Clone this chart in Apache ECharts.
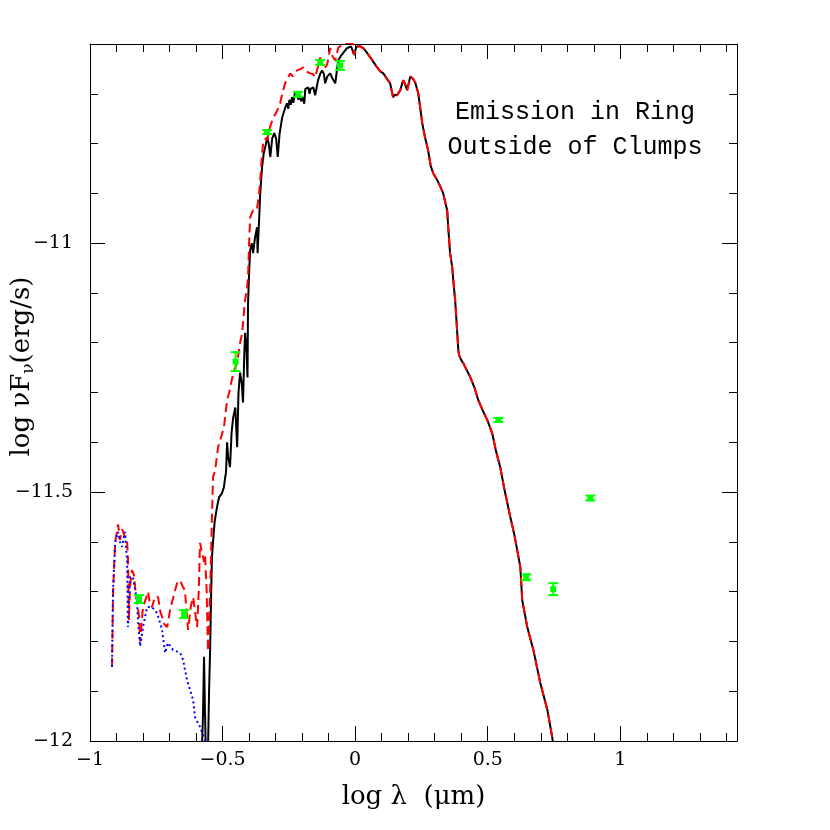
<!DOCTYPE html>
<html>
<head>
<meta charset="utf-8">
<script src="https://cdn.jsdelivr.net/npm/echarts@6/dist/echarts.min.js"></script>
<style>html,body{margin:0;padding:0;background:#fff}#c{width:830px;height:830px}</style>
</head>
<body>
<div id="c"></div>
<script>
// ---- data (log lambda [um], log nuFnu [erg/s]) ----
const blackCurve = [
[-0.580,-12.05],[-0.574,-11.95],[-0.570,-11.831],[-0.566,-11.95],[-0.562,-12.05],[-0.555,-12.02],[-0.551,-11.90],
[-0.547,-11.817],[-0.543,-11.70],[-0.540,-11.631],[-0.536,-11.60],[-0.530,-11.56],[-0.521,-11.53],[-0.513,-11.51],
[-0.509,-11.510],[-0.502,-11.502],[-0.495,-11.49],[-0.490,-11.47],[-0.487,-11.46],[-0.483,-11.40],[-0.479,-11.43],
[-0.472,-11.45],[-0.466,-11.38],[-0.460,-11.35],[-0.452,-11.33],[-0.445,-11.41],[-0.440,-11.30],[-0.434,-11.26],
[-0.428,-11.28],[-0.423,-11.32],[-0.418,-11.22],[-0.415,-11.18],[-0.410,-11.21],[-0.406,-11.27],[-0.404,-11.12],
[-0.400,-11.06],[-0.396,-11.014],[-0.390,-11.00],[-0.385,-11.02],[-0.378,-10.99],[-0.370,-10.968],[-0.368,-11.02],
[-0.362,-10.95],[-0.358,-10.90],[-0.351,-10.847],[-0.345,-10.82],[-0.336,-10.80],[-0.332,-10.787],[-0.326,-10.80],
[-0.320,-10.827],[-0.313,-10.79],[-0.305,-10.779],[-0.298,-10.79],[-0.292,-10.827],[-0.285,-10.78],[-0.275,-10.747],
[-0.265,-10.73],[-0.257,-10.719],[-0.252,-10.73],[-0.248,-10.712],[-0.243,-10.722],[-0.238,-10.707],[-0.233,-10.718],
[-0.228,-10.70],[-0.219,-10.699],[-0.214,-10.712],[-0.210,-10.705],[-0.203,-10.715],[-0.196,-10.707],[-0.192,-10.72],
[-0.188,-10.69],[-0.177,-10.687],[-0.172,-10.70],[-0.168,-10.69],[-0.158,-10.687],[-0.151,-10.703],[-0.140,-10.673],
[-0.132,-10.66],[-0.125,-10.653],[-0.118,-10.66],[-0.113,-10.679],[-0.105,-10.665],[-0.094,-10.659],[-0.085,-10.67],
[-0.075,-10.679],[-0.064,-10.633],[-0.055,-10.625],[-0.045,-10.618],[-0.030,-10.608],[-0.015,-10.605],[-0.008,-10.606],
[-0.004,-10.622],[0.004,-10.606],[0.015,-10.604],[0.030,-10.608],[0.045,-10.618],[0.057,-10.627],[0.070,-10.637],
[0.083,-10.647],[0.095,-10.655],[0.106,-10.659],[0.120,-10.670],[0.132,-10.679],[0.143,-10.707],[0.150,-10.702],
[0.158,-10.703],[0.170,-10.693],[0.181,-10.673],[0.188,-10.68],[0.196,-10.693],[0.208,-10.665],[0.218,-10.670],
[0.226,-10.677],[0.238,-10.699],[0.245,-10.727],[0.253,-10.759],[0.264,-10.789],[0.275,-10.813],[0.285,-10.845],
[0.294,-10.859],[0.309,-10.873],[0.320,-10.885],[0.332,-10.900],[0.347,-10.934],[0.351,-10.968],[0.358,-11.020],
[0.366,-11.048],[0.370,-11.075],[0.377,-11.114],[0.385,-11.18],[0.389,-11.215],[0.392,-11.225],[0.400,-11.235],
[0.408,-11.241],[0.415,-11.249],[0.434,-11.269],[0.450,-11.29],[0.464,-11.315],[0.480,-11.335],[0.498,-11.355],
[0.517,-11.382],[0.530,-11.415],[0.547,-11.450],[0.565,-11.50],[0.585,-11.550],[0.600,-11.585],[0.611,-11.616],
[0.623,-11.651],[0.630,-11.717],[0.649,-11.771],[0.672,-11.817],[0.698,-11.883],[0.725,-11.938],[0.743,-11.992],
[0.750,-12.02]
];
const redCurveLeft = [
[-0.917,-11.851],[-0.913,-11.70],[-0.905,-11.60],[-0.894,-11.565],[-0.887,-11.596],[-0.879,-11.575],[-0.875,-11.58],
[-0.868,-11.59],[-0.860,-11.60],[-0.857,-11.63],[-0.853,-11.757],[-0.849,-11.69],[-0.842,-11.657],[-0.835,-11.665],
[-0.830,-11.69],[-0.823,-11.72],[-0.815,-11.75],[-0.811,-11.80],[-0.805,-11.76],[-0.800,-11.731],[-0.790,-11.715],
[-0.781,-11.70],[-0.774,-11.725],[-0.766,-11.731],[-0.755,-11.71],[-0.743,-11.711],[-0.735,-11.74],[-0.728,-11.751],
[-0.720,-11.765],[-0.709,-11.771],[-0.698,-11.737],[-0.690,-11.72],[-0.680,-11.70],[-0.672,-11.683],[-0.660,-11.677],
[-0.650,-11.69],[-0.642,-11.697],[-0.636,-11.74],[-0.630,-11.777],[-0.620,-11.73],[-0.611,-11.711],[-0.604,-11.74],
[-0.596,-11.771],[-0.590,-11.70],[-0.585,-11.602],[-0.578,-11.62],[-0.570,-11.64],[-0.566,-11.627],[-0.560,-11.70],
[-0.555,-11.82],[-0.547,-11.70],[-0.540,-11.55],[-0.536,-11.47],[-0.528,-11.456],[-0.517,-11.41],[-0.509,-11.396],
[-0.495,-11.37],[-0.483,-11.315],[-0.475,-11.30],[-0.460,-11.261],[-0.445,-11.24],[-0.434,-11.20],[-0.426,-11.181],
[-0.418,-11.13],[-0.415,-11.114],[-0.408,-11.09],[-0.404,-11.07],[-0.400,-11.00],[-0.396,-10.948],[-0.390,-10.94],
[-0.385,-10.934],[-0.377,-10.935],[-0.370,-10.930],[-0.362,-10.90],[-0.358,-10.873],[-0.351,-10.82],[-0.347,-10.799],
[-0.340,-10.79],[-0.332,-10.793],[-0.321,-10.767],[-0.309,-10.747],[-0.300,-10.74],[-0.291,-10.73],[-0.283,-10.719],
[-0.275,-10.70],[-0.264,-10.679],[-0.255,-10.67],[-0.245,-10.659],[-0.235,-10.665],[-0.219,-10.653],[-0.205,-10.650],
[-0.196,-10.647],[-0.185,-10.655],[-0.170,-10.659],[-0.160,-10.66],[-0.151,-10.667],[-0.140,-10.645],[-0.132,-10.627],
[-0.125,-10.64],[-0.113,-10.647],[-0.105,-10.64],[-0.094,-10.608],[-0.085,-10.625],[-0.075,-10.633],[-0.064,-10.608],
[-0.050,-10.602],[-0.038,-10.598],[-0.020,-10.598],[-0.008,-10.600]
];
const blueCurve = [
[-0.917,-11.851],[-0.913,-11.697],[-0.905,-11.60],[-0.894,-11.58],[-0.887,-11.60],[-0.879,-11.61],[-0.868,-11.58],
[-0.860,-11.64],[-0.857,-11.771],[-0.849,-11.67],[-0.838,-11.671],[-0.823,-11.717],[-0.819,-11.757],[-0.811,-11.81],
[-0.800,-11.771],[-0.785,-11.731],[-0.766,-11.731],[-0.747,-11.743],[-0.728,-11.777],[-0.717,-11.823],[-0.706,-11.803],
[-0.687,-11.817],[-0.660,-11.823],[-0.649,-11.837],[-0.634,-11.878],[-0.611,-11.918],[-0.604,-11.952],[-0.585,-11.972],
[-0.566,-11.998],[-0.560,-12.02]
];
const obsX   = [-0.815, -0.645, -0.451, -0.332, -0.215, -0.132, -0.057, 0.540, 0.645, 0.747, 0.887];
const obsY   = [-11.715, -11.745, -11.238, -10.777, -10.701, -10.637, -10.643, -11.355, -11.671, -11.695, -11.512];
const obsErr = [0.008, 0.008, 0.019, 0.004, 0.005, 0.005, 0.009, 0.004, 0.006, 0.012, 0.005];
const xTicks = [-1, -0.5, 0, 0.5, 1];
const yTicks = [-12, -11.5, -11];
const titleLines = ['Emission in Ring', 'Outside of Clumps'];

// ---- chart ----
const redCurve = redCurveLeft.concat(blackCurve.filter(p => p[0] > -0.008));
const obsData = obsX.map((x, i) => [x, obsY[i], obsErr[i]]);
const XMIN = -1, XMAX = 1.44, YMIN = -12, YMAX = -10.6;
const fmt = v => { const r = Math.round(v * 10) / 10; return (r < 0 ? '\u2212' : '') + Math.abs(r); };
const serif = 'DejaVu Serif';
const lab = {color: '#000', fontFamily: serif, fontSize: 19};

function xAx(pos, major) {
  return {
    type: 'value', position: pos, min: XMIN, max: XMAX, interval: major ? 0.5 : 0.1,
    axisLine: {show: major, onZero: false, lineStyle: {color: '#000', width: 1}},
    axisTick: {show: true, inside: true, length: major ? 15 : 8, lineStyle: {color: '#000', width: 1}},
    axisLabel: (major && pos === 'bottom') ? Object.assign({show: true, margin: 10, formatter: v => xTicks.includes(Math.round(v*10)/10) ? fmt(v) : '', showMaxLabel: false}, lab) : {show: false},
    splitLine: {show: false}
  };
}
function yAx(pos, major) {
  return {
    type: 'value', position: pos, min: YMIN, max: YMAX, interval: major ? 0.5 : 0.1,
    axisLine: {show: major, onZero: false, lineStyle: {color: '#000', width: 1}},
    axisTick: {show: true, inside: true, length: major ? 15 : 8, lineStyle: {color: '#000', width: 1}},
    axisLabel: (major && pos === 'left') ? Object.assign({show: true, margin: 17, formatter: v => yTicks.includes(Math.round(v*10)/10) ? fmt(v) : '', showMaxLabel: false}, lab) : {show: false},
    splitLine: {show: false}
  };
}
const xAxes = [xAx('bottom', true), xAx('bottom', false), xAx('top', true), xAx('top', false)];
xAxes[0].name = 'log \u03bb  (\u03bcm)';
xAxes[0].nameLocation = 'middle';
xAxes[0].nameGap = 43;
xAxes[0].nameMoveOverlap = false;
xAxes[0].nameTextStyle = {color: '#000', fontFamily: serif, fontSize: 26};
const yAxes = [yAx('left', true), yAx('left', false), yAx('right', true), yAx('right', false)];
yAxes[0].name = '{p|log \u03bdF}{s|\u03bd}{a|(erg/s)}';
yAxes[0].nameLocation = 'middle';
yAxes[0].nameGap = 53;
yAxes[0].nameMoveOverlap = false;
yAxes[0].nameTextStyle = {color: '#000', fontFamily: serif, fontSize: 26,
  rich: {p: {fontFamily: serif, fontSize: 26, color: '#000', padding: [0, 0, 0, 52]},
         a: {fontFamily: serif, fontSize: 26, color: '#000'},
         s: {fontFamily: serif, fontSize: 17, color: '#000', padding: [13, 0, 0, 0]}}};

const chart = echarts.init(document.getElementById('c'), null, {renderer: 'canvas'});
chart.setOption({
  animation: false,
  backgroundColor: '#fff',
  grid: {left: 90, right: 93, top: 44, bottom: 89, containLabel: false, outerBoundsMode: 'none'},
  xAxis: xAxes,
  yAxis: yAxes,
  graphic: titleLines.map((t, i) => ({
    type: 'text', x: 575, y: 112 + i * 35, z: 10,
    style: {text: t, fill: '#000', font: '25px "Liberation Mono"', align: 'center', verticalAlign: 'middle',
            textAlign: 'center', textVerticalAlign: 'middle'}
  })),
  series: [
    {type: 'line', data: blackCurve, showSymbol: false, symbol: 'none', clip: true,
     lineStyle: {color: '#000', width: 2}, z: 2},
    {type: 'line', data: redCurve, showSymbol: false, symbol: 'none', clip: true,
     lineStyle: {color: '#ff0000', width: 2, type: [9, 5]}, z: 3},
    {type: 'line', data: blueCurve, showSymbol: false, symbol: 'none', clip: true,
     lineStyle: {color: '#0000ff', width: 2, type: [2, 3]}, z: 4},
    {type: 'custom', data: obsData, z: 5, clip: true,
     renderItem: function (params, api) {
       const x = api.value(0), y = api.value(1), e = api.value(2);
       const c = api.coord([x, y]);
       const top = api.coord([x, y + e]), bot = api.coord([x, y - e]);
       const st = {stroke: '#00ff00', lineWidth: 2};
       return {type: 'group', children: [
         {type: 'line', shape: {x1: c[0], y1: top[1], x2: c[0], y2: bot[1]}, style: st},
         {type: 'line', shape: {x1: c[0]-5, y1: top[1], x2: c[0]+5, y2: top[1]}, style: st},
         {type: 'line', shape: {x1: c[0]-5, y1: bot[1], x2: c[0]+5, y2: bot[1]}, style: st},
         {type: 'rect', shape: {x: c[0]-3, y: c[1]-3, width: 6, height: 6}, style: {fill: '#00ff00'}}
       ]};
     }}
  ]
});
</script>
</body>
</html>
